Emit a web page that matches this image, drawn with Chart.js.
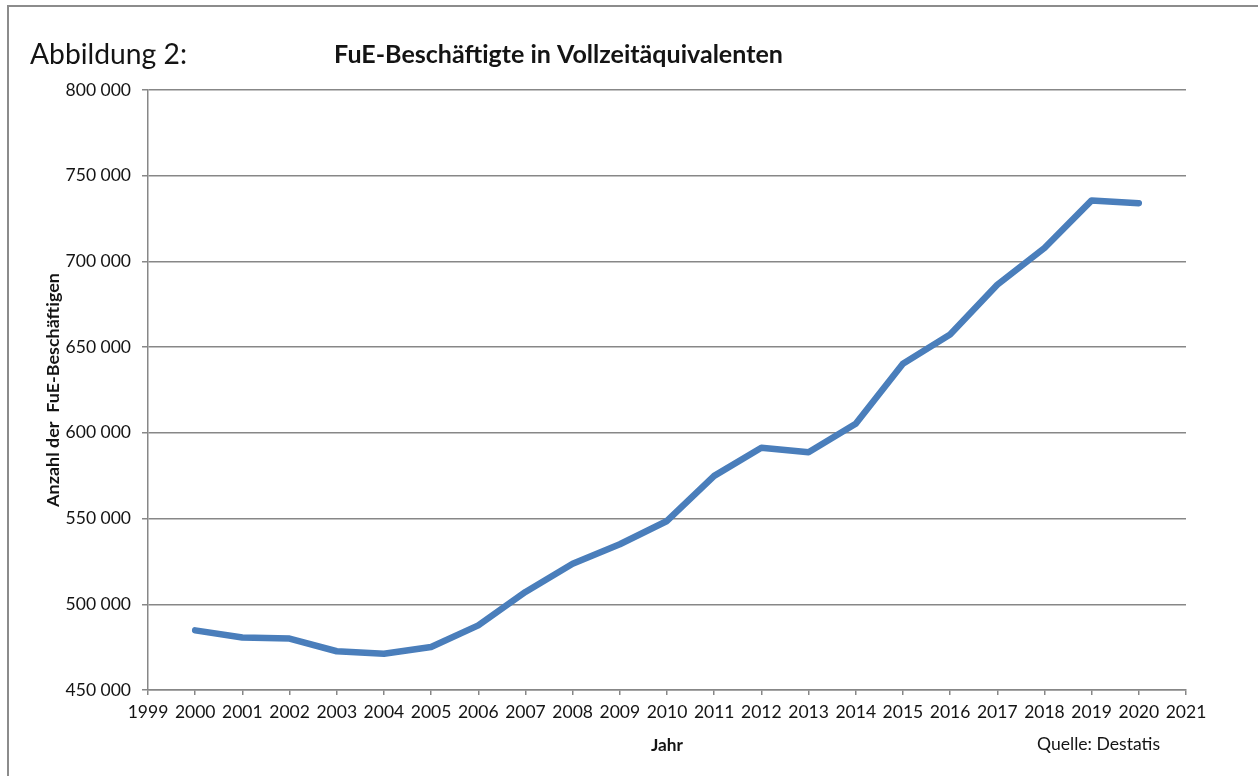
<!DOCTYPE html>
<html>
<head>
<meta charset="utf-8">
<script src="https://cdn.jsdelivr.net/npm/chart.js@4"></script>
<style>
  html, body { margin: 0; padding: 0; background: #ffffff; }
  #wrap { width: 1258px; height: 776px; }
</style>
</head>
<body>
<div id="wrap"><canvas id="c" width="1258" height="776"></canvas></div>
<script>
// ---- data ----
const yearLabels = ['1999','2000','2001','2002','2003','2004','2005','2006','2007','2008','2009','2010',
                    '2011','2012','2013','2014','2015','2016','2017','2018','2019','2020','2021'];
const staffFTE = [null,
  484800, 480600, 480000, 472600, 471200, 475100, 487700, 507200, 523600, 535000, 548600,
  574900, 591300, 588700, 605300, 640300, 657400, 686400, 707800, 735600, 734000,
  null];
const yTickMin = 450000;
const yTickMax = 800000;
const yTickStep = 50000;

const figureLabel = 'Abbildung 2:';
const chartTitle = 'FuE-Beschäftigte in Vollzeitäquivalenten';
const yAxisTitle = 'Anzahl der  FuE-Beschäftigen';
const xAxisTitle = 'Jahr';
const sourceNote = 'Quelle: Destatis';

// ---- styling ----
const FONT = 'Lato, "Open Sans", "Liberation Sans", sans-serif';
const GRID = '#878787';
const TEXT = '#141414';
const LINE = '#4A7EBB';
const TICK_SIZE = 17.5;

function fitFont(ctx, text, weight, targetWidth) {
  ctx.font = weight + ' 20px ' + FONT;
  const w = ctx.measureText(text).width;
  return weight + ' ' + (20 * targetWidth / w).toFixed(2) + 'px ' + FONT;
}

const decorPlugin = {
  id: 'decor',
  beforeDraw(chart) {
    const ctx = chart.ctx;
    ctx.save();
    ctx.fillStyle = '#ffffff';
    ctx.fillRect(0, 0, chart.width, chart.height);
    ctx.strokeStyle = '#8c8c8c';
    ctx.lineWidth = 2;
    ctx.beginPath();
    ctx.moveTo(8, chart.height + 5);
    ctx.lineTo(8, 6);
    ctx.lineTo(chart.width + 5, 6);
    ctx.stroke();
    ctx.restore();
  },
  afterDraw(chart) {
    const ctx = chart.ctx;
    const area = chart.chartArea;
    ctx.save();
    ctx.fillStyle = TEXT;
    ctx.textBaseline = 'middle';

    ctx.textAlign = 'left';
    ctx.font = fitFont(ctx, figureLabel, 'normal', 157);
    ctx.fillText(figureLabel, 30, 55);

    ctx.textAlign = 'center';
    ctx.font = fitFont(ctx, chartTitle, 'bold', 449);
    ctx.fillText(chartTitle, 558.5, 55);

    ctx.font = fitFont(ctx, xAxisTitle, 'bold', 32);
    ctx.fillText(xAxisTitle, (area.left + area.right) / 2, 745);

    ctx.textAlign = 'left';
    ctx.font = fitFont(ctx, sourceNote, 'normal', 123);
    ctx.fillText(sourceNote, 1037, 744);

    ctx.translate(53, (area.top + area.bottom) / 2);
    ctx.rotate(-Math.PI / 2);
    ctx.textAlign = 'center';
    ctx.font = fitFont(ctx, yAxisTitle, 'bold', 234);
    ctx.fillText(yAxisTitle, 0, 0);
    ctx.restore();
  }
};

new Chart(document.getElementById('c'), {
  type: 'line',
  data: {
    labels: yearLabels,
    datasets: [{
      data: staffFTE,
      borderColor: LINE,
      backgroundColor: LINE,
      borderWidth: 6.5,
      borderCapStyle: 'round',
      borderJoinStyle: 'round',
      pointRadius: 0,
      pointHoverRadius: 0,
      tension: 0,
      spanGaps: false,
      fill: false
    }]
  },
  options: {
    responsive: false,
    devicePixelRatio: 1,
    animation: false,
    events: [],
    layout: { padding: { left: 0, right: 72, top: 90, bottom: 46 } },
    plugins: {
      legend: { display: false },
      tooltip: { enabled: false },
      title: { display: false }
    },
    scales: {
      x: {
        type: 'category',
        offset: false,
        grid: {
          display: true,
          drawOnChartArea: false,
          drawTicks: true,
          tickLength: 5,
          color: GRID,
          lineWidth: 1.5
        },
        border: { display: true, color: GRID, width: 1.5 },
        ticks: {
          color: TEXT,
          font: { family: FONT, size: TICK_SIZE },
          padding: 7,
          maxRotation: 0,
          autoSkip: false
        },
        afterFit(scale) { scale.height = 40; }
      },
      y: {
        min: yTickMin,
        max: yTickMax,
        grid: {
          color: GRID,
          lineWidth: 1.5,
          drawTicks: true,
          tickLength: 6
        },
        border: { display: true, color: GRID, width: 1.5 },
        ticks: {
          stepSize: yTickStep,
          color: TEXT,
          font: { family: FONT, size: TICK_SIZE },
          padding: 11,
          callback: (v) => String(v).replace(/\B(?=(\d{3})+(?!\d))/g, ' ')
        },
        afterFit(scale) { scale.width = 148; }
      }
    }
  },
  plugins: [decorPlugin]
});
</script>
</body>
</html>
